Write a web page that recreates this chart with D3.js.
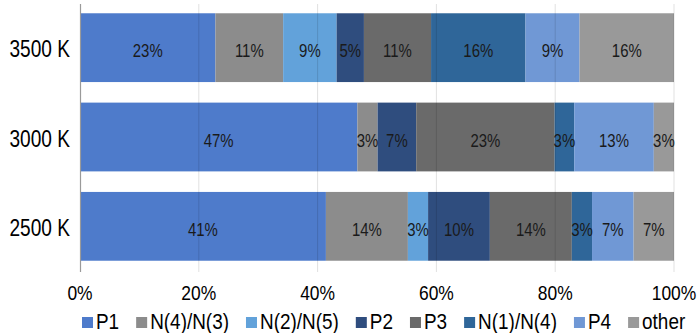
<!DOCTYPE html>
<html><head><meta charset="utf-8">
<script src="https://cdn.jsdelivr.net/npm/d3@7"></script>
<style>html,body{margin:0;padding:0;background:#fff;}svg{display:block;font-family:"Liberation Sans",Arial,sans-serif;}</style>
</head><body>
<svg id="chart" width="700" height="333"></svg>
<script>
const categories = ["3500 K", "3000 K", "2500 K"];
const seriesNames = ["P1", "N(4)/N(3)", "N(2)/N(5)", "P2", "P3", "N(1)/N(4)", "P4", "other"];
const seriesColors = ["#4E7BCB", "#8C8C8C", "#62A2DA", "#2F4D7E", "#6A6A6A", "#2F6699", "#7098D5", "#999999"];
const P1 = [22.8, 46.7, 41.4];
const N43 = [11.4, 3.4, 13.8];
const N25 = [9.0, 0, 3.4];
const P2 = [4.6, 6.5, 10.4];
const P3 = [11.3, 23.3, 13.8];
const N14 = [15.9, 3.3, 3.4];
const P4 = [9.1, 13.4, 7.0];
const other = [15.9, 3.4, 6.8];
const xTicks = [0, 20, 40, 60, 80, 100];

const seriesValues = [P1, N43, N25, P2, P3, N14, P4, other];
const rows = categories.map((c, i) => {
  const r = {cat: c};
  seriesNames.forEach((s, j) => r[s] = seriesValues[j][i]);
  return r;
});
const stack = d3.stack().keys(seriesNames)(rows);

const svg = d3.select("#chart");
const SX = 0.83;
const x = d3.scaleLinear().domain([0, 100]).range([80, 674]);
const y = d3.scaleBand().domain(categories).range([3, 271]).paddingInner(0.23).paddingOuter(0.115);

function txt(g, s, px, py, size, anchor, fill, sx) {
  return g.append("text").attr("transform", `translate(${px},${py}) scale(${sx || SX},1)`)
    .attr("text-anchor", anchor).attr("font-size", size).attr("fill", fill || "#000").text(s);
}

// bars
const gBars = svg.append("g");
stack.forEach((layer, j) => {
  gBars.selectAll(null).data(layer).enter().append("rect")
    .attr("x", d => x(d[0])).attr("width", d => x(d[1]) - x(d[0]))
    .attr("y", d => y(d.data.cat)).attr("height", y.bandwidth())
    .attr("fill", seriesColors[j]);
});

// gridlines over bars
svg.append("g").selectAll("line").data(xTicks.slice(1)).enter().append("line")
  .attr("x1", d => x(d)).attr("x2", d => x(d)).attr("y1", 4).attr("y2", 272)
  .attr("stroke", "#000").attr("stroke-opacity", 0.12).attr("stroke-width", 1);

// left axis line
svg.append("line").attr("x1", 80.5).attr("x2", 80.5).attr("y1", 4).attr("y2", 272)
  .attr("stroke", "#9a9a9a").attr("stroke-width", 1.2);

// data labels
const gLab = svg.append("g");
stack.forEach((layer, j) => {
  layer.forEach(d => {
    const v = d[1] - d[0];
    if (v <= 0) return;
    txt(gLab, Math.round(v) + "%", (x(d[0]) + x(d[1])) / 2, y(d.data.cat) + y.bandwidth() / 2 + 9.5, 18, "middle", "#1a1a1a");
  });
});

// category labels
categories.forEach(c => {
  txt(svg, c, 70, y(c) + y.bandwidth() / 2 + 9.5, 23, "end", "#000");
});

// x tick labels
xTicks.forEach(t => {
  txt(svg, t + "%", x(t), 300, 21, "middle", "#000");
});

// legend
const LSX = 0.88;
const gLeg = svg.append("g");
let lx = 0;
seriesNames.forEach((s, j) => {
  const it = gLeg.append("g");
  it.append("rect").attr("x", lx).attr("y", 317).attr("width", 11).attr("height", 11).attr("fill", seriesColors[j]);
  const t = txt(it, s, lx + 14, 328.5, 21.5, "start", "#000", LSX);
  const w = t.node().getComputedTextLength() * LSX;
  lx += 14 + w + 17;
});
gLeg.attr("transform", `translate(${82},0)`);
</script>
</body></html>
